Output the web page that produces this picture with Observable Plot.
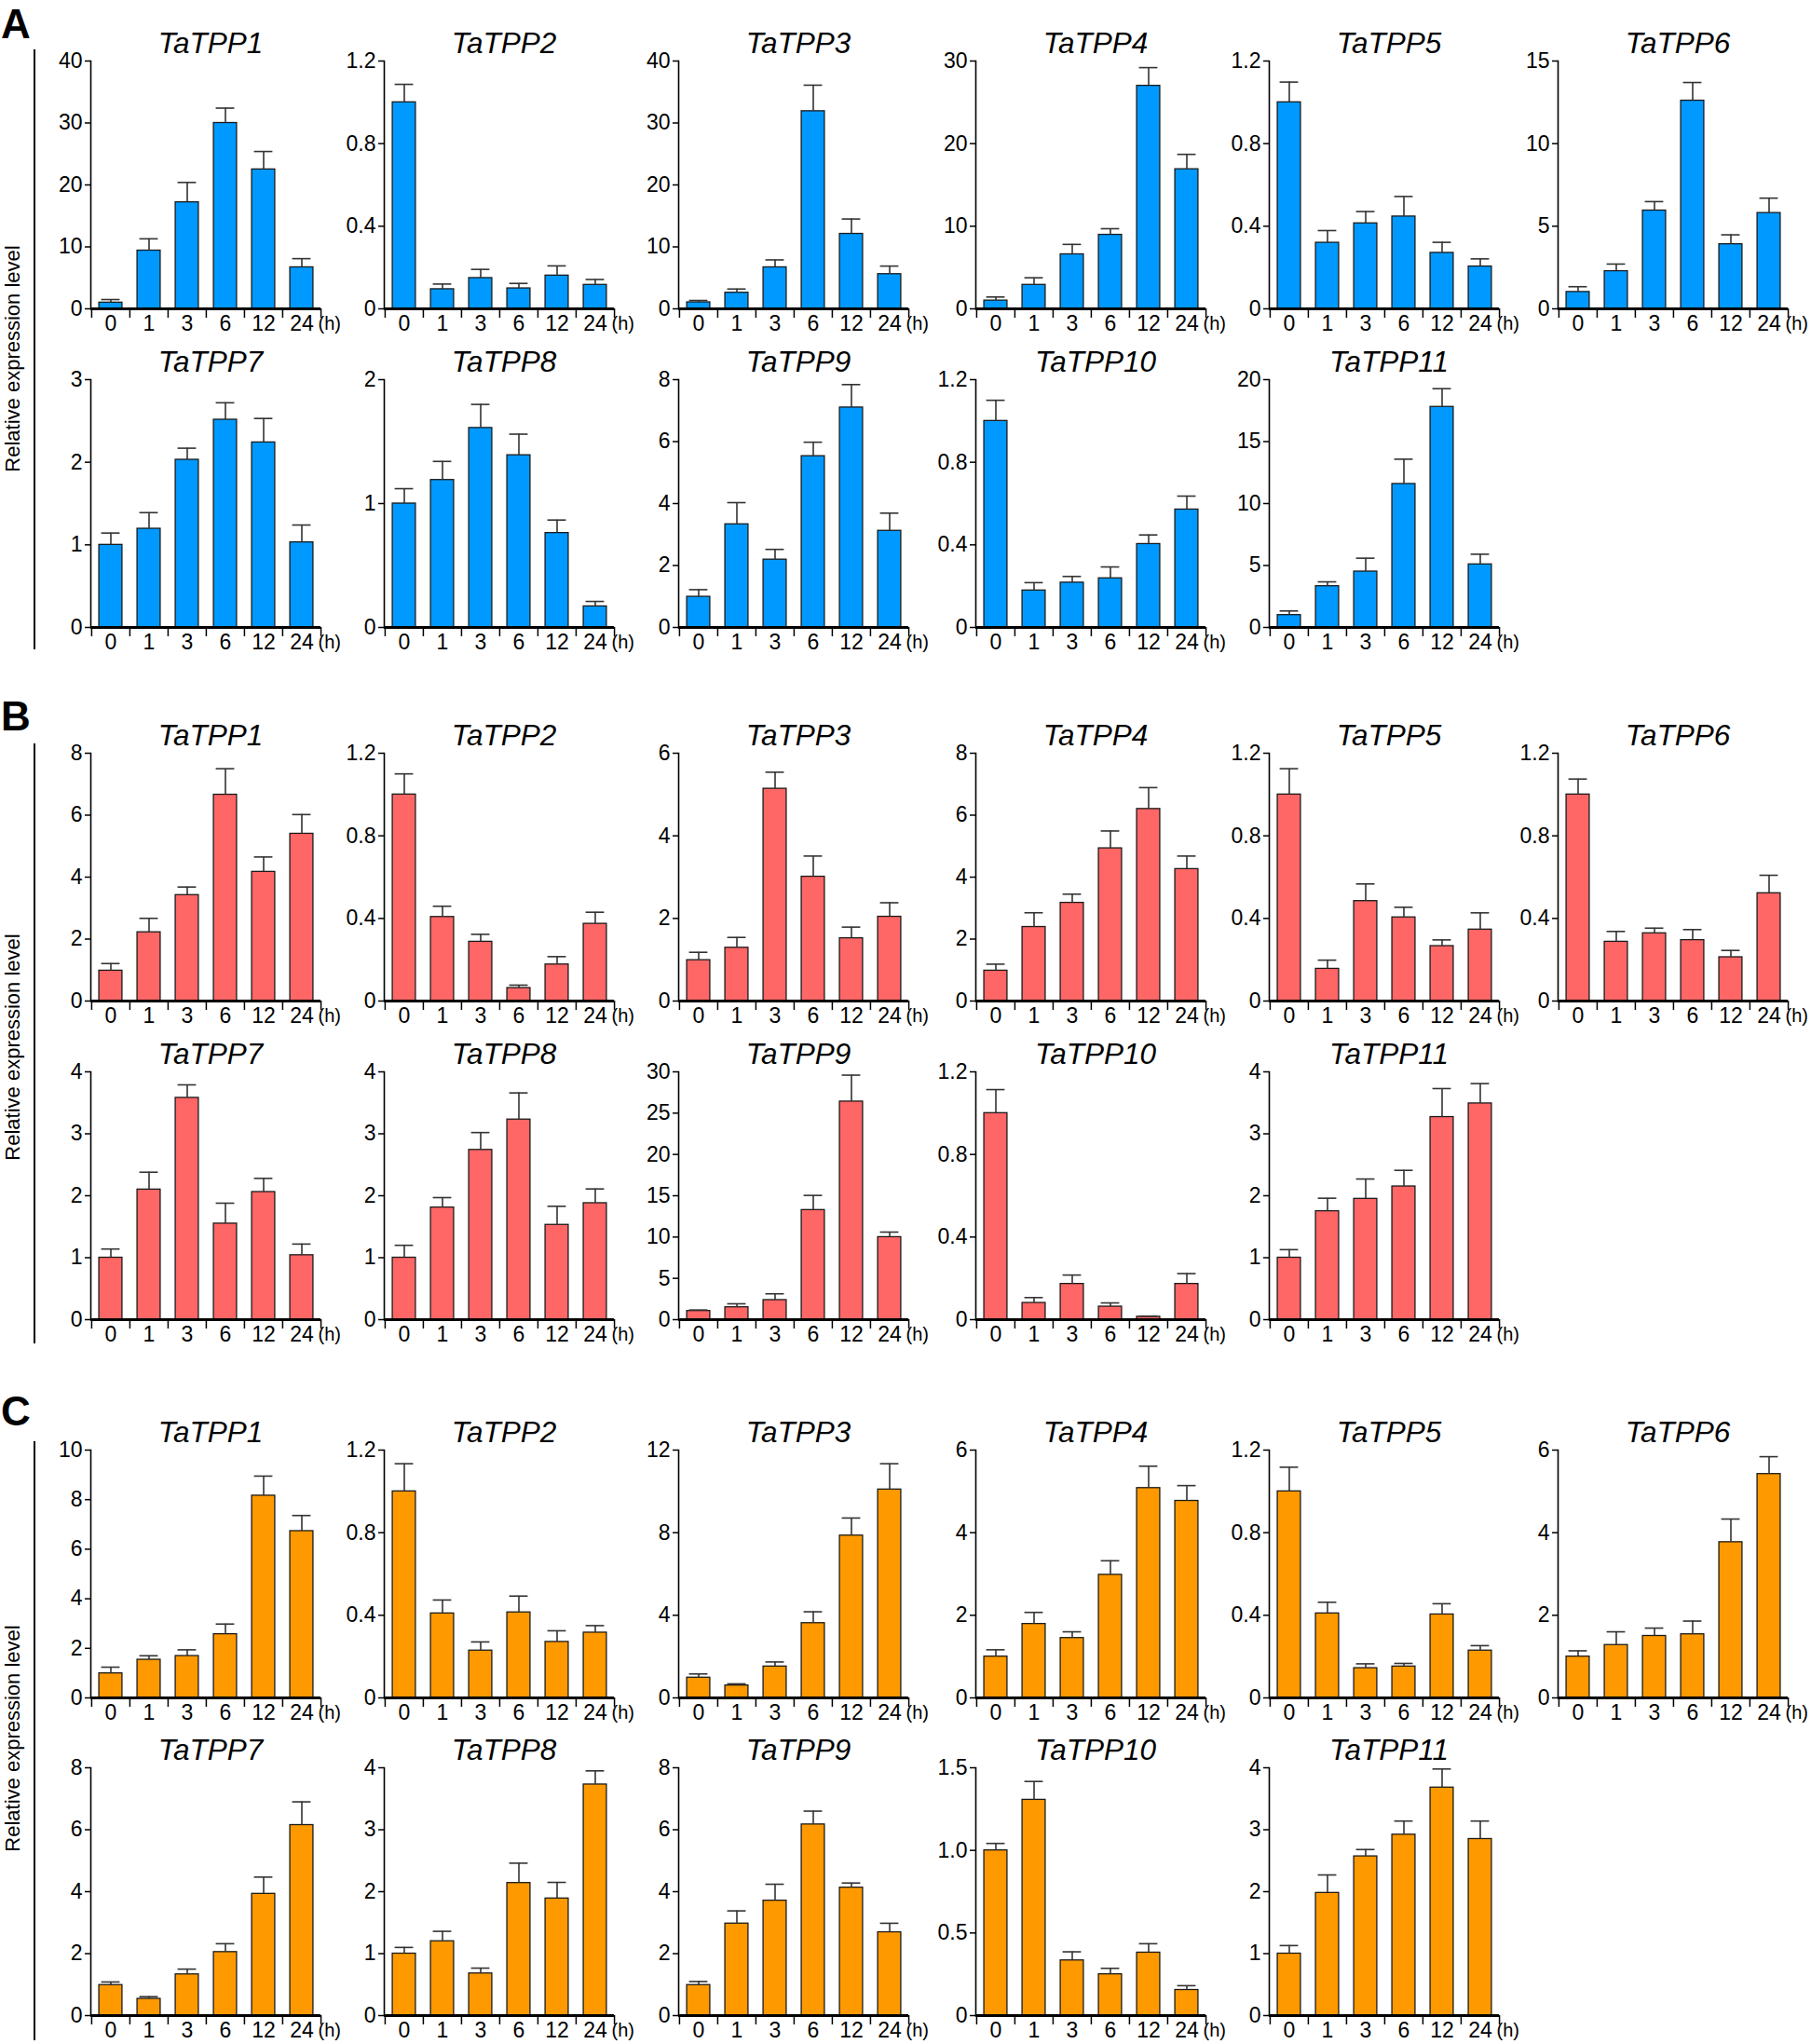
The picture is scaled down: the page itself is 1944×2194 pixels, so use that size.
<!DOCTYPE html>
<html><head><meta charset="utf-8">
<script src="https://cdn.jsdelivr.net/npm/d3@7"></script>
<script src="https://cdn.jsdelivr.net/npm/@observablehq/plot@0.6"></script>
<style>
body{margin:0;background:#fff;}
#fig{position:relative;width:1944px;height:2194px;overflow:hidden;font-family:"Liberation Sans",Arial,sans-serif;}
.panel{position:absolute;}
.panel svg{max-width:none !important;}
#deco{position:absolute;left:0;top:0;}
</style></head><body><div id="fig"></div>
<script>
// ---------- data ----------
const sections = ["A", "B", "C"];
const times = ["0", "1", "3", "6", "12", "24"];
const genes = ["TaTPP1","TaTPP2","TaTPP3","TaTPP4","TaTPP5","TaTPP6","TaTPP7","TaTPP8","TaTPP9","TaTPP10","TaTPP11"];

// Section A
const meanA = [
  [1.0, 9.4, 17.2, 30.0, 22.5, 6.7],
  [1.0, 0.095, 0.149, 0.099, 0.161, 0.116],
  [1.05, 2.6, 6.7, 31.9, 12.1, 5.6],
  [1.0, 2.9, 6.6, 8.96, 27.0, 16.9],
  [1.0, 0.32, 0.414, 0.447, 0.271, 0.205],
  [1.02, 2.28, 5.95, 12.6, 3.91, 5.8],
  [1.0, 1.195, 2.03, 2.515, 2.24, 1.03],
  [1.0, 1.19, 1.61, 1.39, 0.762, 0.17],
  [0.99, 3.33, 2.19, 5.53, 7.1, 3.12],
  [1.0, 0.179, 0.217, 0.238, 0.404, 0.571],
  [1.0, 3.33, 4.51, 11.58, 17.8, 5.09]
];
const sdA = [
  [0.5, 1.9, 3.2, 2.4, 2.9, 1.4],
  [0.087, 0.025, 0.042, 0.024, 0.047, 0.026],
  [0.3, 0.6, 1.2, 4.2, 2.4, 1.3],
  [0.43, 0.86, 1.2, 0.74, 2.2, 1.8],
  [0.098, 0.059, 0.057, 0.097, 0.051, 0.037],
  [0.32, 0.43, 0.54, 1.1, 0.57, 0.9],
  [0.143, 0.195, 0.14, 0.205, 0.29, 0.21],
  [0.12, 0.15, 0.19, 0.17, 0.105, 0.04],
  [0.23, 0.7, 0.33, 0.45, 0.74, 0.57],
  [0.1, 0.038, 0.03, 0.055, 0.044, 0.065],
  [0.33, 0.35, 1.08, 2.0, 1.47, 0.82]
];
const yMaxA = [40, 1.2, 40, 30, 1.2, 15, 3, 2, 8, 1.2, 20];
const yStepA = [10, 0.4, 10, 10, 0.4, 5, 1, 1, 2, 0.4, 5];

// Section B
const meanB = [
  [0.98, 2.22, 3.42, 6.66, 4.17, 5.40],
  [1.0, 0.407, 0.287, 0.063, 0.177, 0.374],
  [0.99, 1.29, 5.14, 3.01, 1.52, 2.04],
  [0.98, 2.39, 3.17, 4.93, 6.2, 4.26],
  [1.0, 0.156, 0.484, 0.405, 0.266, 0.346],
  [1.0, 0.287, 0.328, 0.295, 0.212, 0.522],
  [1.0, 2.1, 3.58, 1.55, 2.06, 1.04],
  [1.0, 1.81, 2.74, 3.23, 1.53, 1.88],
  [1.05, 1.5, 2.37, 13.27, 26.4, 9.99],
  [1.0, 0.081, 0.173, 0.063, 0.014, 0.173],
  [1.0, 1.75, 1.95, 2.15, 3.27, 3.49]
];
const sdB = [
  [0.23, 0.45, 0.26, 0.84, 0.48, 0.62],
  [0.1, 0.052, 0.036, 0.014, 0.038, 0.056],
  [0.19, 0.25, 0.4, 0.5, 0.27, 0.34],
  [0.21, 0.46, 0.28, 0.56, 0.69, 0.42],
  [0.125, 0.042, 0.083, 0.049, 0.03, 0.081],
  [0.075, 0.05, 0.025, 0.051, 0.033, 0.087],
  [0.14, 0.28, 0.21, 0.33, 0.22, 0.18],
  [0.2, 0.16, 0.28, 0.43, 0.3, 0.23],
  [0.12, 0.42, 0.76, 1.77, 3.2, 0.61],
  [0.114, 0.026, 0.043, 0.018, 0.003, 0.05],
  [0.13, 0.21, 0.32, 0.26, 0.46, 0.32]
];
const yMaxB = [8, 1.2, 6, 8, 1.2, 1.2, 4, 4, 30, 1.2, 4];
const yStepB = [2, 0.4, 2, 2, 0.4, 0.4, 1, 1, 5, 0.4, 1];

// Section C
const meanC = [
  [0.99, 1.54, 1.69, 2.57, 8.16, 6.73],
  [1.0, 0.409, 0.229, 0.414, 0.271, 0.316],
  [0.98, 0.6, 1.52, 3.62, 7.86, 10.09],
  [1.0, 1.79, 1.45, 2.98, 5.08, 4.77],
  [1.0, 0.409, 0.144, 0.152, 0.404, 0.229],
  [1.0, 1.28, 1.5, 1.54, 3.77, 5.42],
  [0.985, 0.54, 1.33, 2.05, 3.93, 6.15],
  [1.0, 1.2, 0.68, 2.14, 1.89, 3.73],
  [0.985, 2.97, 3.71, 6.17, 4.13, 2.69],
  [1.0, 1.306, 0.334, 0.25, 0.381, 0.155],
  [1.0, 1.98, 2.57, 2.92, 3.68, 2.85]
];
const sdC = [
  [0.25, 0.16, 0.25, 0.41, 0.79, 0.63],
  [0.134, 0.065, 0.042, 0.079, 0.054, 0.034],
  [0.18, 0.08, 0.22, 0.55, 0.85, 1.25],
  [0.165, 0.28, 0.15, 0.34, 0.53, 0.37],
  [0.117, 0.054, 0.021, 0.015, 0.052, 0.024],
  [0.14, 0.32, 0.19, 0.32, 0.56, 0.42],
  [0.1, 0.07, 0.17, 0.27, 0.54, 0.75],
  [0.1, 0.16, 0.086, 0.32, 0.26, 0.22],
  [0.115, 0.41, 0.53, 0.43, 0.15, 0.29],
  [0.042, 0.111, 0.052, 0.036, 0.054, 0.026],
  [0.13, 0.29, 0.11, 0.22, 0.3, 0.29]
];
const yMaxC = [10, 1.2, 12, 6, 1.2, 6, 8, 4, 8, 1.5, 4];
const yStepC = [2, 0.4, 4, 2, 0.4, 2, 2, 1, 2, 0.5, 1];

const yTitle = "Relative expression level";

// ---------- layout / style ----------
const colors = {A: "#0099ff", B: "#ff6666", C: "#ff9900"};
const colX = [97, 412, 728, 1047, 1362, 1672];
const rowTop = {A: [65, 407], B: [808, 1150], C: [1556, 1897]};
const plotW = 247, plotH = 266;
const mL = 70, mR = 40, mT = 55, mB = 45;
const FONT = "'Liberation Sans', Arial, sans-serif";

const sectionData = {
  A: {mean: meanA, sd: sdA, yMax: yMaxA, yStep: yStepA},
  B: {mean: meanB, sd: sdB, yMax: yMaxB, yStep: yStepB},
  C: {mean: meanC, sd: sdC, yMax: yMaxC, yStep: yStepC}
};

function panel(gene, means, sds, yMax, yStep, color) {
  const data = times.map((t, i) => ({t, v: means[i], e: means[i] + sds[i]}));
  const step = plotW / times.length;
  const barInset = (step - 25) / 2;
  const capInset = (step - 20) / 2;
  const ticks = d3.range(0, yMax + yStep / 2, yStep);
  const fmt = d => d === 0 ? "0" : (yStep < 1 ? d.toFixed(1) : String(d));
  return Plot.plot({
    width: mL + plotW + mR, height: mT + plotH + mB,
    marginLeft: mL, marginRight: mR, marginTop: mT, marginBottom: mB,
    style: {fontFamily: FONT, background: "transparent", overflow: "visible", color: "#000", maxWidth: "none"},
    x: {domain: times, padding: 0},
    y: {domain: [0, yMax]},
    marks: [
      Plot.barY(data, {x: "t", y: "v", fill: color, stroke: "#1a1a1a", strokeWidth: 1.3, insetLeft: barInset, insetRight: barInset}),
      Plot.ruleX(data, {x: "t", y1: "v", y2: "e", stroke: "#333", strokeWidth: 1.6}),
      Plot.tickY(data, {x: "t", y: "e", stroke: "#333", strokeWidth: 1.6, insetLeft: capInset, insetRight: capInset}),
      Plot.axisY({ticks, tickFormat: fmt, tickSize: 6, tickPadding: 3, fontSize: 23, strokeWidth: 1.5, label: null}),
      Plot.frame({anchor: "left", strokeWidth: 1.6}),
      Plot.ruleY([0], {strokeWidth: 2.8}),
      Plot.axisX({tickSize: 0, tickPadding: 7, fontSize: 23, label: null}),
      Plot.axisX({tickSize: 10, tickFormat: () => "", dx: -step / 2, strokeWidth: 1.5, label: null}),
      Plot.axisX({ticks: [times[times.length - 1]], tickSize: 10, tickFormat: () => "", dx: step / 2, strokeWidth: 1.5, label: null}),
      Plot.text(["(h)"], {text: d => d, frameAnchor: "bottom-right", textAnchor: "start", lineAnchor: "top", dx: -3, dy: 8, fontSize: 20}),
      Plot.text([gene], {text: d => d, frameAnchor: "top", lineAnchor: "bottom", dy: -9, dx: 5, fontSize: 31.5, fontStyle: "italic"})
    ]
  });
}

const fig = document.getElementById("fig");
sections.forEach(s => {
  const sd = sectionData[s];
  genes.forEach((g, p) => {
    const row = Math.floor(p / 6), col = p % 6;
    const svg = panel(g, sd.mean[p], sd.sd[p], sd.yMax[p], sd.yStep[p], colors[s]);
    const wrap = document.createElement("div");
    wrap.className = "panel";
    wrap.style.left = (colX[col] - mL) + "px";
    wrap.style.top = (rowTop[s][row] - mT) + "px";
    wrap.style.width = (mL + plotW + mR) + "px";
    wrap.appendChild(svg);
    fig.appendChild(wrap);
  });
});

// decorations: section letters, left brackets, y titles
const deco = d3.select(fig).append("svg").attr("id", "deco")
  .attr("width", 1944).attr("height", 2194)
  .style("font-family", FONT).style("pointer-events", "none");
const letterBase = {A: 41, B: 784, C: 1530};
const lineSpan = {A: [53, 697], B: [798, 1442], C: [1547, 2190]};
const labelCenter = {A: 385, B: 1124, C: 1866};
sections.forEach(s => {
  deco.append("text").attr("x", 1).attr("y", letterBase[s])
    .attr("font-size", 44).attr("font-weight", "bold").text(s);
  deco.append("line").attr("x1", 37).attr("x2", 37)
    .attr("y1", lineSpan[s][0]).attr("y2", lineSpan[s][1])
    .attr("stroke", "#000").attr("stroke-width", 2);
  deco.append("text")
    .attr("transform", `translate(13,${labelCenter[s]}) rotate(-90)`)
    .attr("text-anchor", "middle").attr("dominant-baseline", "central")
    .attr("font-size", 22).text(yTitle);
});
</script>
</body></html>
